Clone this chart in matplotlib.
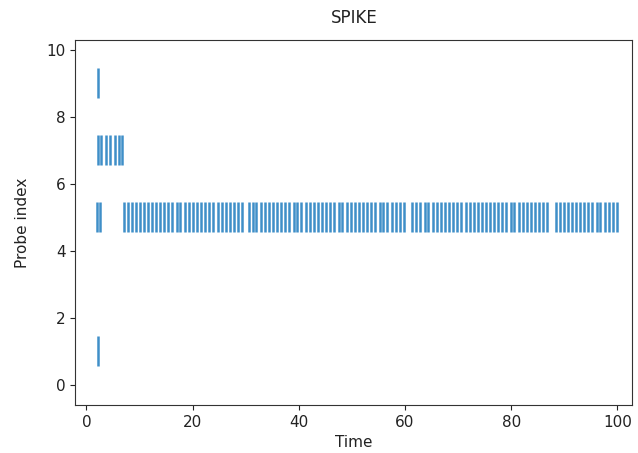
import numpy as np
import matplotlib.pyplot as plt

# spike times per probe (probe index -> list of times)
probe_ids = [1, 5, 7, 9]

spikes_probe1 = [2.2]
spikes_probe9 = [2.2]
spikes_probe7 = [2.1, 2.8, 3.6, 4.4, 5.4, 6.1, 6.7]
spikes_probe5 = [
    1.9, 2.6,
    7.0, 7.8, 8.5, 9.3, 10.0, 10.8, 11.6, 12.3, 13.1, 13.9, 14.6, 15.4,
    16.2, 17.0, 17.7, 18.5, 19.3, 20.1, 20.8, 21.6, 22.4, 23.1, 23.9, 24.7,
    25.5, 26.2, 27.0, 27.8, 28.5, 29.3, 30.6, 31.3, 32.0, 32.8, 33.6, 34.3,
    35.1, 35.9, 36.7, 37.4, 38.2, 39.0, 39.7, 40.5, 41.3, 42.1, 42.8, 43.6,
    44.4, 45.1, 45.9, 46.7, 47.5, 48.2, 49.0, 49.8, 50.5, 51.3, 52.1, 52.9,
    53.6, 54.4, 55.2, 55.9, 56.7, 57.5, 58.3, 59.0, 59.8, 61.4, 62.1, 62.9,
    63.7, 64.4, 65.2, 66.0, 66.8, 67.5, 68.3, 69.1, 69.8, 70.6, 71.4, 72.2,
    72.9, 73.7, 74.5, 75.2, 76.0, 76.8, 77.6, 78.3, 79.1, 79.9, 80.6, 81.4,
    82.2, 83.0, 83.7, 84.5, 85.3, 86.0, 86.8, 88.4, 89.1, 89.9, 90.7, 91.4,
    92.2, 93.0, 93.8, 94.5, 95.3, 96.1, 96.8, 97.6, 98.4, 99.2, 100.0,
]

positions = [spikes_probe1, spikes_probe5, spikes_probe7, spikes_probe9]

fig = plt.figure(figsize=(6.38, 4.53), dpi=100)
ax = fig.add_axes([0.118, 0.106, 0.873, 0.806])

ax.eventplot(positions, lineoffsets=probe_ids, linelengths=0.9,
             linewidths=1.8, colors='#3f8fc8')

ax.set_xlim(-2.1, 102.8)
ax.set_ylim(-0.6, 10.3)
ax.set_xticks([0, 20, 40, 60, 80, 100])
ax.set_yticks([0, 2, 4, 6, 8, 10])
ax.tick_params(labelsize=11, colors='#222222')
for s in ax.spines.values():
    s.set_color('#333333')

ax.set_title("SPIKE", fontsize=12, pad=12, color='#222222')
ax.set_xlabel("Time", fontsize=11, color='#222222')
ax.set_ylabel("Probe index", fontsize=11, labelpad=12, color='#222222')

plt.savefig('out.png', dpi=100)
